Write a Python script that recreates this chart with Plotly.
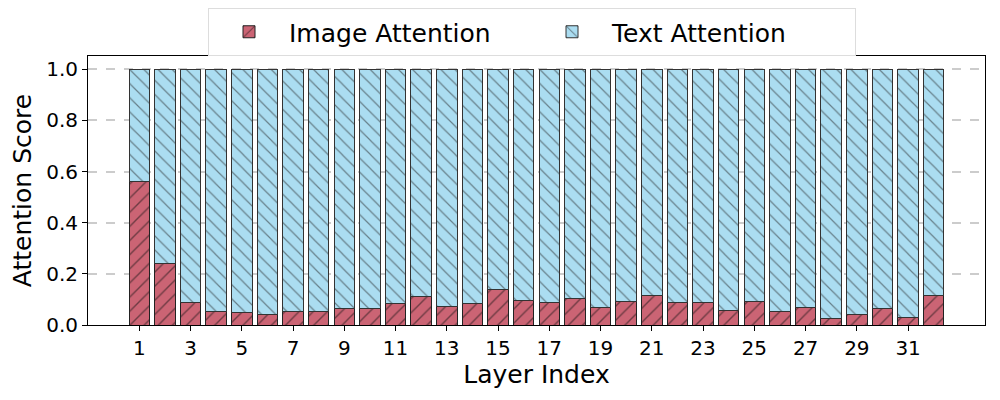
import plotly.graph_objects as go

# --- Per-layer attention split ---
layers = list(range(1, 33))
image_attention = [0.563, 0.242, 0.088, 0.053, 0.047, 0.043, 0.051, 0.053,
                   0.066, 0.063, 0.083, 0.112, 0.071, 0.085, 0.139, 0.096,
                   0.088, 0.104, 0.069, 0.092, 0.116, 0.087, 0.087, 0.055,
                   0.090, 0.051, 0.069, 0.026, 0.043, 0.066, 0.030, 0.116]
text_attention = [round(1 - v, 3) for v in image_attention]
tick_vals = list(range(1, 33, 2))

fig = go.Figure()

fig.add_trace(go.Bar(
    x=layers, y=image_attention, width=0.8,
    name="Image Attention",
    marker=dict(color="#CB6474",
                line=dict(color="#222222", width=1),
                pattern=dict(shape="/", fgcolor="#111111", size=10, solidity=0.14)),
))
fig.add_trace(go.Bar(
    x=layers, y=text_attention, width=0.8,
    name="Text Attention",
    marker=dict(color="#ABDDF1",
                line=dict(color="#333333", width=1),
                pattern=dict(shape="\\", fgcolor="#222222", size=10, solidity=0.12)),
))

# page body has an 8px margin, so offsets below are compensated
fig.update_layout(
    barmode="stack",
    width=1000, height=400,
    margin=dict(l=80, r=23, t=47, b=83),
    paper_bgcolor="white", plot_bgcolor="white",
    font=dict(family="DejaVu Sans", size=20, color="black"),
    legend=dict(orientation="h", xref="container", x=0.2, xanchor="left",
                yref="container", y=1.0, yanchor="top",
                traceorder="normal",
                font=dict(size=25), bordercolor="#dddddd", borderwidth=1,
                bgcolor="white", entrywidth=238, itemwidth=70),
    showlegend=True,
)

fig.update_xaxes(
    range=[-1, 34], tickvals=tick_vals, automargin=False,
    title=dict(text="Layer Index", font=dict(size=25), standoff=2),
    showline=True, linecolor="black", linewidth=1, mirror=True,
    ticks="outside", ticklen=5, tickcolor="black", showgrid=False, zeroline=False,
)
fig.update_yaxes(
    range=[0, 1.052], tickvals=[0, 0.2, 0.4, 0.6, 0.8, 1.0], tickformat=".1f",
    automargin=False,
    title=dict(text="Attention Score", font=dict(size=25), standoff=8),
    showline=True, linecolor="black", linewidth=1, mirror=True,
    ticks="outside", ticklen=5, tickcolor="black",
    showgrid=True, gridcolor="rgba(170,170,170,0.6)", gridwidth=1.5, griddash="dash",
    zeroline=False, layer="above traces",
)

fig.write_html("out.html")
